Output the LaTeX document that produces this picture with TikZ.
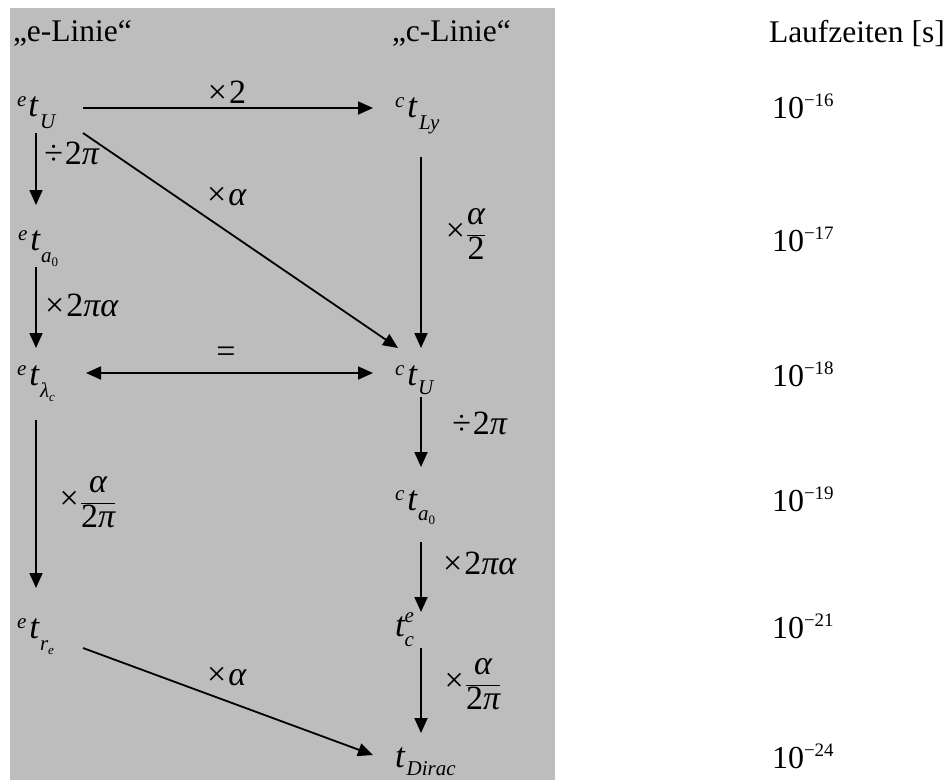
\documentclass[tikz,border=0pt]{standalone}
\usepackage{fontspec}
\setmainfont{Liberation Serif}
\usetikzlibrary{arrows.meta,calc}
\definecolor{bgc}{RGB}{189,189,189}
\newcommand\hiidx[2][10]{\raisebox{#1pt}{\fontsize{21}{21}\selectfont\itshape #2}}
\newcommand\loidx[2][12]{\raisebox{-#1pt}{\fontsize{21}{21}\selectfont\itshape #2}}
\newcommand\tinyidx[2][4]{\raisebox{-#1pt}{\fontsize{13}{13}\selectfont #2}}
\newcommand\tv{{\fontsize{35}{40}\selectfont\itshape t}}
\newcommand\pw[1]{{\fontsize{32}{36}\selectfont 10}\raisebox{12pt}{\fontsize{19}{19}\selectfont −#1}}
\begin{document}
\begin{tikzpicture}[x=1pt,y=-1pt,
  every node/.style={inner sep=0pt, outer sep=0pt, font=\fontsize{34}{40}\selectfont},
  tnode/.style={anchor=base west},
  titlenode/.style={anchor=base west, font=\fontsize{31.5}{36}\selectfont},
  arr/.style={line width=1.8pt, -{Triangle[length=15pt,width=13pt]}},
  darr/.style={line width=1.8pt, {Triangle[length=15pt,width=13pt]}-{Triangle[length=15pt,width=13pt]}},
  lbl/.style={anchor=center}]
\useasboundingbox (0,0) rectangle (950,780);
\fill[bgc] (10,7.5) rectangle (555,780);

% titles
\node[titlenode] (te) at (13,41) {„e-Linie“};
\node[titlenode] (tc) at (392,41) {„c-Linie“};
\node[titlenode] (tl) at (769,42) {Laufzeiten [s]};

% e-line nodes
\node[tnode] (eU) at (17,116) {\hiidx{e}\hspace{2pt}\tv\hspace{2pt}\loidx{U}};
\node[tnode] (eA) at (18,250) {\hiidx{e}\hspace{3pt}\tv\hspace{1pt}\loidx{a\tinyidx{\upshape 0}}};
\node[tnode] (eL) at (17,385) {\hiidx{e}\hspace{3pt}\tv\hspace{1pt}\loidx{λ\tinyidx{\itshape c}}};
\node[tnode] (eR) at (17,638) {\hiidx{e}\hspace{3pt}\tv\hspace{1pt}\loidx{r\tinyidx{\itshape e}}};

% c-line nodes
\node[tnode] (cLy) at (395,117) {\hiidx{c}\hspace{3pt}\tv\hspace{2pt}\loidx{Ly}};
\node[tnode] (cU) at (395,385) {\hiidx{c}\hspace{3pt}\tv\hspace{1pt}\loidx[9]{U}};
\node[tnode] (cA) at (395,510) {\hiidx{c}\hspace{3pt}\tv\hspace{1pt}\loidx[10]{a\tinyidx{\upshape 0}}};
\node[tnode] (cC) at (395,636) {\tv\rlap{\hiidx[14]{e}}\loidx[10]{c}};
\node[tnode] (tD) at (395,767) {\tv\hspace{2pt}\loidx[8]{Dirac}};

% right column
\node[tnode] (r16) at (772,118) {\pw{16}};
\node[tnode] (r17) at (772,251) {\pw{17}};
\node[tnode] (r18) at (772,386) {\pw{18}};
\node[tnode] (r19) at (772,511) {\pw{19}};
\node[tnode] (r21) at (772,638) {\pw{21}};
\node[tnode] (r24) at (772,768) {\pw{24}};

% connectors
\draw[arr] ($(eU.base west)+(66,-8)$) -- ($(cLy.base west)+(-22,-9)$);
\draw[arr] ($(eU.base west)+(19,17)$) -- ($(eA.base west)+(18,-45)$);
\draw[arr] ($(eU.base west)+(66,17)$) -- ($(cU.base west)+(3,-37)$);
\draw[arr] ($(cLy.base west)+(26,40)$) -- ($(cU.base west)+(26,-37)$);
\draw[arr] ($(eA.base west)+(18,17)$) -- ($(eL.base west)+(19,-37)$);
\draw[darr] ($(eL.base west)+(69,-12)$) -- ($(cU.base west)+(-22,-12)$);
\draw[arr] ($(eL.base west)+(19,35)$) -- ($(eR.base west)+(19,-50)$);
\draw[arr] ($(cU.base west)+(26,12)$) -- ($(cA.base west)+(26,-43)$);
\draw[arr] ($(cA.base west)+(26,32)$) -- ($(cC.base west)+(26,-24)$);
\draw[arr] ($(cC.base west)+(26,12)$) -- ($(tD.base west)+(26,-34)$);
\draw[arr] ($(eR.base west)+(66,10)$) -- ($(tD.base west)+(-22,-12)$);

% labels
\node[lbl] (l1) at (227,92) {×\hspace{2pt}2};
\node[lbl] (l2) at (72,153) {÷\hspace{2pt}2\textit{π}};
\node[lbl] (l3) at (227,197) {×\hspace{2pt}\textit{α}};
\node[lbl] (l4) at (466,234) {×\hspace{1pt}$\displaystyle\frac{\mbox{\itshape α}}{\mbox{2}}$};
\node[lbl] (l5) at (82,305) {×\hspace{2pt}2\textit{πα}};
\node[lbl] (l6) at (226,355) {=};
\node[lbl] (l7) at (480,423) {÷\hspace{2pt}2\textit{π}};
\node[lbl] (l8) at (88,502) {×\hspace{1pt}$\displaystyle\frac{\mbox{\itshape α}}{\mbox{2\itshape π}}$};
\node[lbl] (l9) at (480,563) {×\hspace{2pt}2\textit{πα}};
\node[lbl] (l10) at (227,677) {×\hspace{2pt}\textit{α}};
\node[lbl] (l11) at (473,684) {×\hspace{1pt}$\displaystyle\frac{\mbox{\itshape α}}{\mbox{2\itshape π}}$};
\end{tikzpicture}
\end{document}
